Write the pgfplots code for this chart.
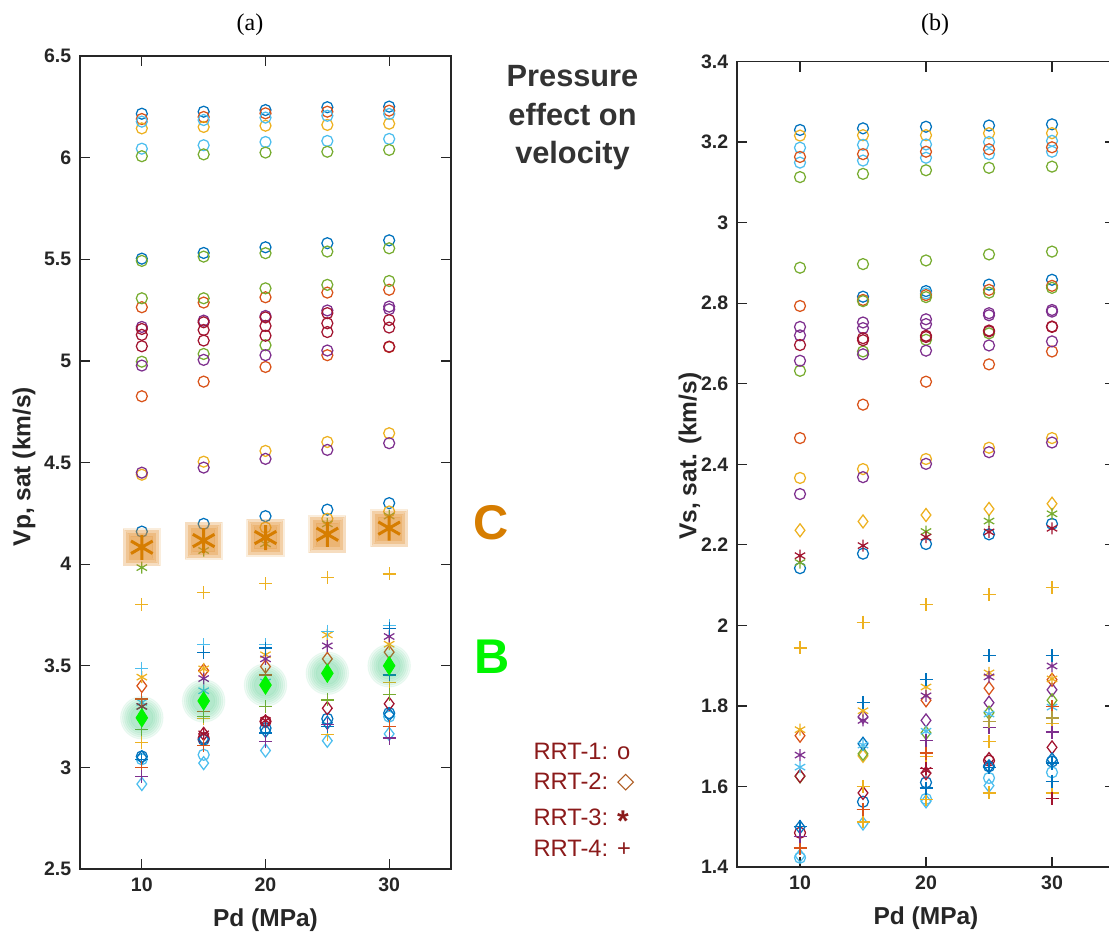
\documentclass[border=0pt]{standalone}
\usepackage{fontspec}
\setmainfont{Liberation Serif}
\setsansfont{Liberation Sans}
\newfontfamily\dejavu{DejaVu Sans}
\usepackage{pgfplots}
\pgfplotsset{compat=1.18}
\definecolor{mblue}{rgb}{0,0.447,0.741}
\definecolor{morange}{rgb}{0.850,0.325,0.098}
\definecolor{myellow}{rgb}{0.929,0.694,0.125}
\definecolor{mpurple}{rgb}{0.494,0.184,0.556}
\definecolor{mgreen}{rgb}{0.466,0.674,0.188}
\definecolor{mlblue}{rgb}{0.301,0.745,0.933}
\definecolor{mdred}{rgb}{0.635,0.078,0.184}
\definecolor{mkhaki}{rgb}{0.70,0.62,0.25}
\definecolor{axgray}{RGB}{38,38,38}
\definecolor{Corange}{RGB}{214,125,0}
\definecolor{Cglow}{RGB}{225,140,40}
\definecolor{Bgreen}{RGB}{0,245,0}
\definecolor{Bglow}{RGB}{40,190,110}
\definecolor{legred}{RGB}{139,26,26}
\definecolor{legbrown}{RGB}{170,85,25}
\pgfplotstableread{
x y
10 4.083
15 4.116
20 4.131
25 4.147
30 4.177
}\Cdata
\pgfplotstableread{
x y
10 3.244
15 3.327
20 3.405
25 3.463
30 3.500
}\Bdata
\pgfplotsset{
  mO/.style={only marks, mark=o, mark size=2.2pt, mark options={line width=0.5pt}},
  mD/.style={only marks, mark=diamond, mark size=2.6pt, mark options={line width=0.5pt}},
  mS/.style={only marks, mark=asterisk, mark size=2.4pt, mark options={line width=0.5pt}},
  mP/.style={only marks, mark=+, mark size=2.6pt, mark options={line width=0.5pt}},
  cglow/.style={only marks, mark=square*, mark size=#1, color=Cglow, opacity=0.16, mark options={draw=none}},
  bglow/.style={only marks, mark=*, mark size=#1, color=Bglow, opacity=0.07, mark options={draw=none}},
  base/.style={
    scale only axis, anchor=south west,
    xmin=5, xmax=35, xtick={10,20,30},
    axis line style={draw=axgray, line width=0.6pt},
    tick style={draw=axgray, line width=0.5pt},
    major tick length=4pt,
    tick align=inside,
    /pgf/number format/assume math mode=true,
    ticklabel style={font=\sffamily\bfseries\fontsize{7.8}{9}\selectfont, text=axgray},
    label style={font=\sffamily\bfseries\fontsize{9.8}{11}\selectfont, text=axgray},
    xlabel style={at={(axis description cs:0.5,0)}, anchor=center, yshift=-20.4pt},
  }
}
\begin{document}
\begin{tikzpicture}
\path[use as bounding box] (0,0) rectangle (443.6pt,375.2pt);
\node[font=\fontsize{9.6}{11}\selectfont] at (100pt,365.2pt) {(a)};
\node[font=\fontsize{9.6}{11}\selectfont] at (374pt,365.2pt) {(b)};
% ---------------- panel (a)
\begin{axis}[base, at={(32pt,27.6pt)}, width=148.4pt, height=325.2pt,
  ymin=2.5, ymax=6.5, ytick={2.5,3,3.5,4,4.5,5,5.5,6,6.5},
  xlabel={Pd (MPa)}, ylabel={Vp, sat (km/s)},
  ylabel style={at={(axis description cs:0,0.495)}, anchor=center, yshift=22.4pt}]
% RRT-1 circles
\addplot[mO, mblue] coordinates {(10,6.216)(15,6.226)(20,6.234)(25,6.248)(30,6.251)
 (10,5.503)(15,5.531)(20,5.559)(25,5.579)(30,5.593)
 (10,4.16)(15,4.198)(20,4.236)(25,4.268)(30,4.30)
 (10,3.054)(15,3.136)(20,3.193)(25,3.239)(30,3.267)};
\addplot[mO, morange] coordinates {(10,6.19)(15,6.20)(20,6.218)(25,6.226)(30,6.231)
 (10,5.264)(15,5.287)(20,5.313)(25,5.336)(30,5.35)
 (10,4.826)(15,4.898)(20,4.970)(25,5.028)(30,5.068)};
\addplot[mO, myellow] coordinates {(10,6.144)(15,6.151)(20,6.157)(25,6.161)(30,6.167)
 (10,4.44)(15,4.504)(20,4.557)(25,4.601)(30,4.644)
 (20,4.18)(25,4.223)(30,4.259)};
\addplot[mO, mlblue] coordinates {(10,6.177)(15,6.185)(20,6.197)(25,6.206)(30,6.215)
 (10,6.044)(15,6.061)(20,6.077)(25,6.082)(30,6.092)
 (10,3.04)(15,3.062)(30,3.25)};
\addplot[mO, mgreen] coordinates {(10,6.007)(15,6.016)(20,6.025)(25,6.029)(30,6.038)
 (10,5.492)(15,5.513)(20,5.530)(25,5.538)(30,5.554)
 (10,5.308)(15,5.308)(20,5.357)(25,5.374)(30,5.393)
 (10,4.996)(15,5.034)(20,5.077)};
\addplot[mO, mpurple] coordinates {(10,5.167)(15,5.198)(20,5.221)(25,5.248)(30,5.267)
 (10,4.977)(15,5.005)(20,5.028)(25,5.051)(30,5.254)
 (10,4.450)(15,4.475)(20,4.518)(25,4.562)(30,4.595)};
\addplot[mO, mdred] coordinates {(10,5.157)(15,5.19)(20,5.214)(25,5.235)
 (10,5.128)(15,5.152)(20,5.172)(25,5.185)(30,5.201)
 (10,5.072)(15,5.10)(20,5.124)(25,5.142)(30,5.164)(30,5.07)
 (15,3.144)(20,3.226)};
% RRT-2 diamonds
\addplot[mD, morange] coordinates {(10,3.401)(15,3.477)(20,3.496)(25,3.534)(30,3.567)};
\addplot[mD, mdred] coordinates {(15,3.165)(20,3.226)(25,3.291)(30,3.313)};
\addplot[mD, mblue] coordinates {(10,3.05)(15,3.14)(20,3.18)(25,3.22)(30,3.26)};
\addplot[mD, mlblue] coordinates {(10,2.918)(15,3.021)(20,3.083)(25,3.131)(30,3.165)};
% RRT-3 asterisks
\addplot[mS, mgreen] coordinates {(10,3.983)(15,4.067)(20,4.10)(25,4.198)(30,4.237)};
\addplot[mS, myellow] coordinates {(10,3.444)(15,3.485)(20,3.554)(25,3.652)(30,3.606)};
\addplot[mS, mpurple] coordinates {(10,3.30)(15,3.437)(20,3.534)(25,3.598)(30,3.644)};
\addplot[mS, mlblue] coordinates {(10,3.32)(15,3.377)(20,3.42)};
\addplot[mS, mdred] coordinates {(10,3.30)(15,3.165)(20,3.23)};
% RRT-4 plus
\addplot[mP, myellow] coordinates {(10,3.80)(15,3.86)(20,3.903)(25,3.936)(30,3.952)
 (10,3.122)(15,3.239)(20,3.30)(25,3.16)(30,3.417)};
\addplot[mP, mlblue] coordinates {(10,3.488)(15,3.603)(20,3.603)(25,3.67)(30,3.698)};
\addplot[mP, mblue] coordinates {(15,3.565)(20,3.587)(25,3.201)(30,3.455)(30,3.682)(10,3.04)(20,3.169)};
\addplot[mP, morange] coordinates {(10,3.336)(15,3.275)(20,3.455)(10,3.001)(15,3.108)(30,3.201)};
\addplot[mP, mgreen] coordinates {(10,3.185)(15,3.25)(20,3.30)(25,3.332)(30,3.357)};
\addplot[mP, mpurple] coordinates {(10,2.955)(20,3.128)(25,3.21)(30,3.144)};
% highlighted C (orange asterisks with soft glow)
\addplot[cglow=7.4pt] table {\Cdata};
\addplot[cglow=6.8pt] table {\Cdata};
\addplot[cglow=6.2pt] table {\Cdata};
\addplot[cglow=5.6pt] table {\Cdata};
\addplot[cglow=5.0pt] table {\Cdata};
\addplot[cglow=4.4pt] table {\Cdata};
\addplot[only marks, mark=asterisk, mark size=5pt, color=Corange, mark options={line width=1.2pt}] table {\Cdata};
% highlighted B (green diamonds with soft glow)
\addplot[bglow=8.5pt] table {\Bdata};
\addplot[bglow=7.7pt] table {\Bdata};
\addplot[bglow=6.9pt] table {\Bdata};
\addplot[bglow=6.1pt] table {\Bdata};
\addplot[bglow=5.3pt] table {\Bdata};
\addplot[bglow=4.5pt] table {\Bdata};
\addplot[only marks, mark=diamond*, mark size=3.6pt, color=Bgreen, mark options={xscale=0.85}] table {\Bdata};
\end{axis}
% ---------------- panel (b)
\begin{axis}[base, at={(294.8pt,28.4pt)}, width=151.2pt, height=322.2pt,
  ymin=1.4, ymax=3.4, ytick={1.4,1.6,1.8,2,2.2,2.4,2.6,2.8,3,3.2,3.4},
  xlabel={Pd (MPa)}, ylabel={Vs, sat. (km/s)},
  ylabel style={at={(axis description cs:0,0.51)}, anchor=center, yshift=18.8pt}]
\addplot[mO, mblue] coordinates {(10,3.230)(15,3.234)(20,3.238)(25,3.241)(30,3.244)
 (15,2.816)(20,2.830)(25,2.846)(30,2.858)
 (10,2.142)(15,2.178)(20,2.202)(25,2.226)(30,2.252)
 (15,1.562)(20,1.610)(25,1.650)(30,1.662)};
\addplot[mO, myellow] coordinates {(10,3.216)(15,3.217)(20,3.217)(25,3.222)(30,3.222)
 (10,2.366)(15,2.388)(20,2.413)(25,2.441)(30,2.465)};
\addplot[mO, mlblue] coordinates {(10,3.186)(15,3.193)(20,3.194)(25,3.200)(30,3.203)
 (10,3.149)(15,3.154)(20,3.161)(25,3.170)(30,3.176)(20,2.824)
 (10,1.423)(20,1.569)(25,1.621)(30,1.635)};
\addplot[mO, morange] coordinates {(10,3.163)(15,3.170)(20,3.176)(25,3.182)(30,3.187)
 (10,2.793)(15,2.808)(20,2.820)(25,2.833)(30,2.843)
 (10,2.465)(15,2.548)(20,2.605)(25,2.648)(30,2.680)};
\addplot[mO, mgreen] coordinates {(10,3.113)(15,3.121)(20,3.130)(25,3.136)(30,3.139)
 (10,2.888)(15,2.897)(20,2.906)(25,2.921)(30,2.928)
 (15,2.805)(20,2.815)(25,2.826)(30,2.838)
 (10,2.632)(15,2.680)(20,2.709)(25,2.725)};
\addplot[mO, mpurple] coordinates {(10,2.741)(15,2.752)(20,2.760)(25,2.775)(30,2.783)
 (10,2.720)(15,2.738)(20,2.748)(25,2.770)(30,2.779)
 (10,2.657)(15,2.673)(20,2.682)(25,2.695)(30,2.705)
 (10,2.326)(15,2.368)(20,2.401)(25,2.430)(30,2.454)};
\addplot[mO, mdred] coordinates {(10,2.696)(15,2.713)(20,2.719)(25,2.732)(30,2.742)
 (15,2.708)(20,2.716)(25,2.730)(30,2.741)(10,1.485)(25,1.664)};
\addplot[mD, myellow] coordinates {(10,2.236)(15,2.258)(20,2.274)(25,2.289)(30,2.302)(15,1.676)};
\addplot[mD, morange] coordinates {(10,1.726)(20,1.814)(25,1.844)(30,1.865)};
\addplot[mD, mpurple] coordinates {(15,1.773)(20,1.764)(25,1.808)(30,1.840)};
\addplot[mD, mgreen] coordinates {(10,1.625)(15,1.681)(20,1.733)(25,1.783)(30,1.814)};
\addplot[mD, mdred] coordinates {(10,1.626)(15,1.584)(20,1.633)(25,1.668)(30,1.697)};
\addplot[mD, mblue] coordinates {(10,1.499)(15,1.706)(25,1.65)(30,1.667)};
\addplot[mD, mlblue] coordinates {(10,1.428)(15,1.508)(20,1.563)(25,1.602)};
\addplot[mS, mgreen] coordinates {(10,2.156)(20,2.233)(25,2.259)(30,2.277)};
\addplot[mS, mdred] coordinates {(10,2.173)(15,2.198)(20,2.219)(25,2.232)(30,2.241)(20,1.640)};
\addplot[mS, myellow] coordinates {(10,1.741)(15,1.788)(20,1.847)(25,1.882)(30,1.867)};
\addplot[mS, mpurple] coordinates {(10,1.678)(15,1.764)(20,1.825)(25,1.872)(30,1.899)};
\addplot[mS, mlblue] coordinates {(10,1.648)(15,1.703)(20,1.737)(25,1.780)(30,1.797)};
\addplot[mP, myellow] coordinates {(10,1.944)(15,2.008)(20,2.051)(25,2.076)(30,2.094)
 (15,1.600)(20,1.675)(25,1.712)(30,1.756)
 (15,1.512)(20,1.567)(25,1.584)(30,1.584)};
\addplot[mP, mblue] coordinates {(15,1.809)(20,1.865)(25,1.925)(30,1.925)
 (10,1.50)(15,1.543)(20,1.596)(25,1.648)(30,1.613)(30,1.658)};
\addplot[mP, morange] coordinates {(10,1.447)(15,1.542)(20,1.714)(20,1.683)(25,1.762)(30,1.799)};
\addplot[mP, mpurple] coordinates {(10,1.476)(20,1.714)(25,1.747)(30,1.735)};
\addplot[mP, mdred] coordinates {(30,1.571)(20,1.645)};
\addplot[mP, mkhaki] coordinates {(30,1.770)(25,1.762)};
\end{axis}
% ---------------- annotations
\node[align=center, font=\sffamily\bfseries\fontsize{12.3}{15.4}\selectfont, text=black!80] at (229pt,328pt) {Pressure\\effect on\\velocity};
\node[font=\sffamily\bfseries\fontsize{19.5}{22}\selectfont, text=Corange] at (196.5pt,166.2pt) {C};
\node[font=\sffamily\bfseries\fontsize{19.5}{22}\selectfont, text=Bgreen] at (197pt,112.5pt) {B};
\node[anchor=west, inner sep=0pt, font=\sffamily\fontsize{9.5}{11}\selectfont, text=legred] at (213.2pt,74.5pt) {RRT-1: o};
\node[anchor=west, inner sep=0pt, font=\sffamily\fontsize{9.5}{11}\selectfont, text=legred] at (213.2pt,62.5pt) {RRT-2: {\dejavu\color{legbrown}\raisebox{0.3pt}{\fontsize{9}{10}\selectfont◇}}};
\node[anchor=west, inner sep=0pt, font=\sffamily\fontsize{9.5}{11}\selectfont, text=legred] at (213.2pt,47.2pt) {RRT-3: \raisebox{-2.6pt}{\fontsize{12}{12}\selectfont\bfseries *}};
\node[anchor=west, inner sep=0pt, font=\sffamily\fontsize{9.5}{11}\selectfont, text=legred] at (213.2pt,36pt) {RRT-4: +};
\end{tikzpicture}
\end{document}
